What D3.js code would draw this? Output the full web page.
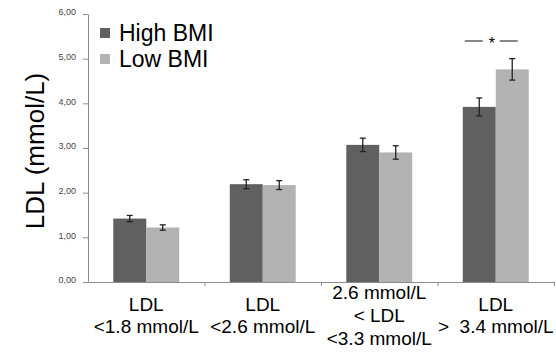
<!DOCTYPE html>
<html><head><meta charset="utf-8">
<script src="https://cdn.jsdelivr.net/npm/d3@7"></script>
<style>body{margin:0;background:#fff}svg{display:block}text{font-family:Arial,"Liberation Sans",sans-serif}</style>
</head><body>
<svg id="c" width="556" height="354"></svg>
<script>
const categories = ["LDL\n<1.8 mmol/L", "LDL\n<2.6 mmol/L", "2.6 mmol/L\n< LDL\n<3.3 mmol/L", "LDL\n>  3.4 mmol/L"];
const seriesNames = ["High BMI", "Low BMI"];
const highBMI = [1.42, 2.19, 3.07, 3.92];
const lowBMI = [1.22, 2.17, 2.90, 4.76];
const highErr = [0.07, 0.10, 0.15, 0.20];
const lowErr = [0.06, 0.10, 0.15, 0.24];
const yTicks = [0, 1, 2, 3, 4, 5, 6];
const significance = [{cat: 3, label: "*"}];

(function () {
const colors = ["#606060", "#b2b2b2"];
const svg = d3.select("#c");
const mLeft = 88, mRight = 554, mTop = 14, mBottom = 282;

const y = d3.scaleLinear().domain([0, 6]).range([mBottom, mTop]);
const x0 = d3.scaleBand().domain(d3.range(categories.length)).range([mLeft, mRight]).padding(0);
const x1 = d3.scaleBand().domain([0, 1]).range([x0.bandwidth() * 0.217, x0.bandwidth() * 0.783]).padding(0);
const xb = d3.scaleLinear().domain([0, categories.length]).range([mLeft, mRight]);

const loc = d3.formatLocale({decimal: ",", thousands: ".", grouping: [3], currency: ["", ""]});
const fmt = loc.format(".2f");

// y axis
const ya = svg.append("g").attr("transform", `translate(${mLeft},0)`)
  .call(d3.axisLeft(y).tickValues(yTicks).tickFormat(fmt).tickSize(5).tickSizeOuter(0));
ya.select(".domain").attr("stroke", "#8c8c8c");
ya.selectAll(".tick line").attr("stroke", "#8c8c8c");
ya.selectAll(".tick text").attr("font-size", 9).attr("fill", "#444").attr("x", -12).attr("dy", "0.1em")
  .style("font-family", "'Liberation Sans Narrow', Arial, sans-serif");

// bars
const data = categories.map((c, i) => ({i, vals: [
  {s: 0, v: highBMI[i], e: highErr[i]}, {s: 1, v: lowBMI[i], e: lowErr[i]}]}));
const g = svg.selectAll("g.grp").data(data).enter().append("g").attr("class", "grp")
  .attr("transform", d => `translate(${x0(d.i)},0)`);
g.selectAll("rect").data(d => d.vals).enter().append("rect")
  .attr("x", d => x1(d.s)).attr("width", x1.bandwidth())
  .attr("y", d => y(d.v)).attr("height", d => y(0) - y(d.v))
  .attr("fill", d => colors[d.s]);
// error bars
const eb = g.selectAll("g.err").data(d => d.vals).enter().append("g").attr("class", "err")
  .attr("stroke", "#222").attr("stroke-width", 1.3);
eb.append("line").attr("x1", d => x1(d.s) + x1.bandwidth() / 2).attr("x2", d => x1(d.s) + x1.bandwidth() / 2)
  .attr("y1", d => y(d.v + d.e)).attr("y2", d => y(d.v - d.e));
["+", "-"].forEach(sgn => {
  eb.append("line").attr("x1", d => x1(d.s) + x1.bandwidth() / 2 - 3).attr("x2", d => x1(d.s) + x1.bandwidth() / 2 + 3)
    .attr("y1", d => y(sgn === "+" ? d.v + d.e : d.v - d.e)).attr("y2", d => y(sgn === "+" ? d.v + d.e : d.v - d.e));
});

// x axis
const xa = svg.append("g").attr("transform", `translate(0,${mBottom})`)
  .call(d3.axisBottom(xb).tickValues(d3.range(1, categories.length + 1)).tickFormat("").tickSize(4).tickSizeOuter(0));
xa.select(".domain").attr("stroke", "#8c8c8c");
xa.selectAll(".tick line").attr("stroke", "#8c8c8c");

// category labels
categories.forEach((c, i) => {
  const lines = c.split("\n");
  const cx = x0(i) + x0.bandwidth() / 2;
  const lh = lines.length === 3 ? 23 : 22;
  const y0 = lines.length === 3 ? 299 : 311;
  const t = svg.append("text").attr("text-anchor", "middle").attr("font-size", 19).attr("fill", "#000")
    .attr("xml:space", "preserve").style("white-space", "pre");
  lines.forEach((l, k) => t.append("tspan").attr("x", cx).attr("y", y0 + k * lh).text(l));
});

// y label
svg.append("text").attr("transform", "translate(44,151) rotate(-90)")
  .attr("text-anchor", "middle").attr("font-size", 26).attr("fill", "#000").text("LDL (mmol/L)");

// legend
seriesNames.forEach((n, k) => {
  const ly = 41 + k * 26;
  svg.append("rect").attr("x", 100).attr("y", ly - 13).attr("width", 10).attr("height", 10).attr("fill", colors[k]);
  svg.append("text").attr("x", 119).attr("y", ly).attr("font-size", 23).attr("fill", "#000").text(n);
});

// significance
significance.forEach(s => {
  const cx = x0(s.cat) + x0.bandwidth() / 2;
  const sy = 41;
  svg.append("line").attr("x1", cx - 31).attr("x2", cx - 13).attr("y1", sy).attr("y2", sy).attr("stroke", "#444").attr("stroke-width", 1.3);
  svg.append("line").attr("x1", cx + 4).attr("x2", cx + 22).attr("y1", sy).attr("y2", sy).attr("stroke", "#444").attr("stroke-width", 1.3);
  svg.append("text").attr("x", cx - 4).attr("y", sy + 8).attr("text-anchor", "middle").attr("font-size", 16).attr("fill", "#000").text(s.label);
});
})();
</script>
</body></html>
